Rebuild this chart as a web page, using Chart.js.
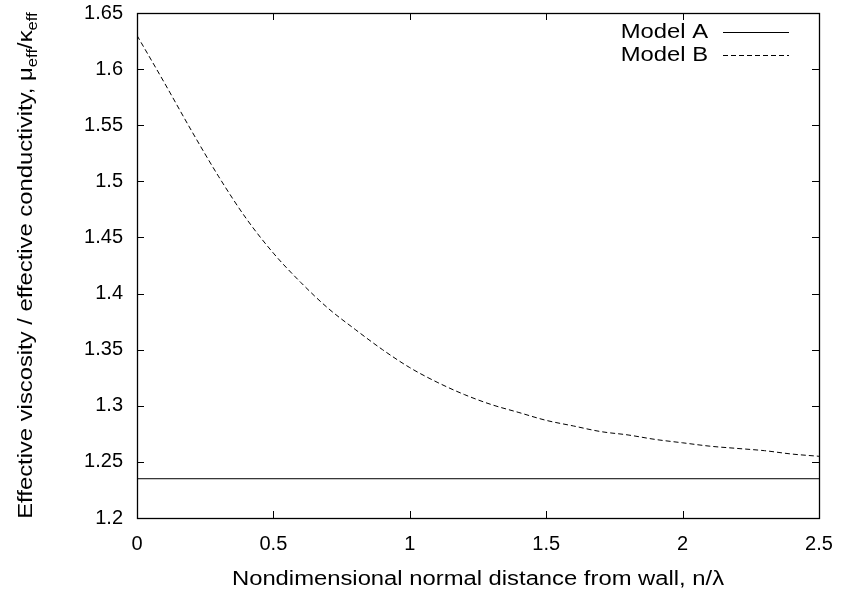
<!DOCTYPE html>
<html>
<head>
<meta charset="utf-8">
<script src="https://cdn.jsdelivr.net/npm/chart.js@4/dist/chart.umd.min.js"></script>
<style>
  html, body { margin: 0; padding: 0; background: #fff; }
  #wrap { width: 841px; height: 594px; }
</style>
</head>
<body>
<div id="wrap"><canvas id="chart" width="841" height="594"></canvas></div>
<script>
// values
var distance = [0, 0.1, 0.2, 0.3, 0.4, 0.5, 0.6, 0.7, 0.8, 0.9, 1.0, 1.1, 1.2,
                1.3, 1.4, 1.5, 1.6, 1.7, 1.8, 1.9, 2.0, 2.1, 2.2, 2.3, 2.4, 2.5];
var modelB = [1.630, 1.588, 1.545, 1.504, 1.467, 1.436, 1.410, 1.387, 1.368,
              1.350, 1.334, 1.321, 1.310, 1.301, 1.294, 1.287, 1.282, 1.277,
              1.274, 1.270, 1.267, 1.264, 1.262, 1.260, 1.257, 1.255];
var distanceA = [0, 2.5];
var modelA = [1.235, 1.235];

var seriesLabels = ['Model A', 'Model B'];
var xTickLabels = ['0', '0.5', '1', '1.5', '2', '2.5'];
var yTickLabels = ['1.2', '1.25', '1.3', '1.35', '1.4', '1.45', '1.5', '1.55', '1.6', '1.65'];
var xTitle = 'Nondimensional normal distance from wall, n/\u03bb';

var FONT = 'Liberation Sans, Arial, Helvetica, sans-serif';
var STRETCH = 1.19; // the titles and key are set wider than the tick labels
Chart.defaults.font.family = FONT;
Chart.defaults.font.size = 20;
Chart.defaults.color = '#000';

function pairs(xs, ys) {
    return xs.map(function (x, i) { return { x: x, y: ys[i] }; });
}

// gnuplot style frame with inward ticks on all four sides
var framePlugin = {
    id: 'frame',
    afterDatasetsDraw: function (chart) {
        var ctx = chart.ctx, a = chart.chartArea, len = 7;
        var xs = chart.scales.x, ys = chart.scales.y;
        ctx.save();
        ctx.strokeStyle = '#000';
        ctx.lineWidth = 1;
        ctx.beginPath();
        xs.ticks.forEach(function (t) {
            var px = Math.round(xs.getPixelForValue(t.value)) + 0.5;
            ctx.moveTo(px, a.bottom); ctx.lineTo(px, a.bottom - len);
            ctx.moveTo(px, a.top); ctx.lineTo(px, a.top + len);
        });
        ys.ticks.forEach(function (t) {
            var py = Math.round(ys.getPixelForValue(t.value)) + 0.5;
            ctx.moveTo(a.left, py); ctx.lineTo(a.left + len, py);
            ctx.moveTo(a.right, py); ctx.lineTo(a.right - len, py);
        });
        ctx.stroke();
        ctx.lineWidth = 1.3;
        ctx.strokeRect(Math.round(a.left) + 0.5, Math.round(a.top) + 0.5,
                       Math.round(a.right - a.left), Math.round(a.bottom - a.top));
        ctx.restore();
    }
};

// key in the top right corner: text then line sample
var keyPlugin = {
    id: 'key',
    afterDatasetsDraw: function (chart) {
        var ctx = chart.ctx, a = chart.chartArea;
        chart.data.datasets.forEach(function (ds, i) {
            var y = a.top + 19 + i * 23;
            ctx.save();
            ctx.translate(a.right - 111, y);
            ctx.scale(STRETCH, 1);
            ctx.font = '20px ' + FONT;
            ctx.fillStyle = '#000';
            ctx.textAlign = 'right';
            ctx.textBaseline = 'middle';
            ctx.fillText(ds.label, 0, 0);
            ctx.restore();

            ctx.save();
            ctx.strokeStyle = ds.borderColor;
            ctx.lineWidth = ds.borderWidth;
            ctx.setLineDash(ds.borderDash || []);
            ctx.beginPath();
            ctx.moveTo(a.right - 96, Math.round(y) + 0.5);
            ctx.lineTo(a.right - 30, Math.round(y) + 0.5);
            ctx.stroke();
            ctx.restore();
        });
    }
};

// axis titles; the y one has subscripts
var titlePlugin = {
    id: 'titles',
    afterDraw: function (chart) {
        var ctx = chart.ctx, a = chart.chartArea;
        ctx.save();
        ctx.fillStyle = '#000';
        ctx.font = '20px ' + FONT;
        ctx.textAlign = 'center';
        ctx.textBaseline = 'alphabetic';
        ctx.translate((a.left + a.right) / 2, 585);
        ctx.scale(STRETCH, 1);
        ctx.fillText(xTitle, 0, 0);
        ctx.restore();

        var parts = [
            ['Effective viscosity / effective conductivity, \u03bc', 20, 0],
            ['eff', 14, 5],
            ['/\u03ba', 20, 0],
            ['eff', 14, 5]
        ];
        ctx.save();
        var total = 0;
        parts.forEach(function (p) {
            ctx.font = p[1] + 'px ' + FONT;
            total += ctx.measureText(p[0]).width;
        });
        ctx.translate(32, (a.top + a.bottom) / 2);
        ctx.rotate(-Math.PI / 2);
        ctx.scale(STRETCH, 1);
        ctx.fillStyle = '#000';
        ctx.textBaseline = 'alphabetic';
        ctx.textAlign = 'left';
        var x = -total / 2;
        parts.forEach(function (p) {
            ctx.font = p[1] + 'px ' + FONT;
            ctx.fillText(p[0], x, p[2]);
            x += ctx.measureText(p[0]).width;
        });
        ctx.restore();
    }
};

new Chart(document.getElementById('chart'), {
    type: 'line',
    data: {
        datasets: [{
            label: seriesLabels[0],
            data: pairs(distanceA, modelA),
            borderColor: '#000',
            borderWidth: 1,
            pointRadius: 0
        }, {
            label: seriesLabels[1],
            data: pairs(distance, modelB),
            borderColor: '#000',
            borderWidth: 1,
            borderDash: [5, 3],
            pointRadius: 0,
            cubicInterpolationMode: 'monotone'
        }]
    },
    options: {
        responsive: false,
        animation: false,
        layout: { padding: { top: 13, right: 22, left: 0, bottom: 0 } },
        plugins: {
            legend: { display: false },
            tooltip: { enabled: false }
        },
        scales: {
            x: {
                type: 'linear',
                min: 0,
                max: 2.5,
                grid: { display: false, drawTicks: false },
                border: { display: false },
                ticks: {
                    stepSize: 0.5,
                    padding: 14,
                    maxRotation: 0,
                    callback: function (v, i) { return xTickLabels[i]; }
                },
                afterFit: function (s) {
                    s.height = 76;
                    s.paddingLeft = 0;
                    s.paddingRight = 0;
                }
            },
            y: {
                min: 1.2,
                max: 1.65,
                grid: { display: false, drawTicks: false },
                border: { display: false },
                ticks: {
                    stepSize: 0.05,
                    padding: 14,
                    callback: function (v, i) { return yTickLabels[i]; }
                },
                afterFit: function (s) {
                    s.width = 137;
                    s.paddingTop = 0;
                    s.paddingBottom = 0;
                }
            }
        }
    },
    plugins: [framePlugin, keyPlugin, titlePlugin]
});
</script>
</body>
</html>
